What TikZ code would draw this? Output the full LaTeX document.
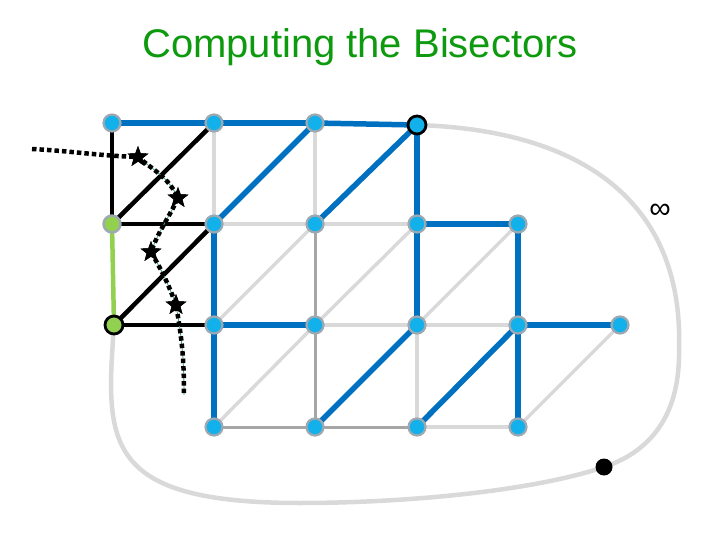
\documentclass[tikz,border=0pt]{standalone}
\usepackage{fontspec}
\setmainfont{Liberation Sans}
\usetikzlibrary{shapes.geometric}
\definecolor{titlegreen}{HTML}{0E9A0E}
\definecolor{eblue}{HTML}{0070C0}
\definecolor{vcyan}{HTML}{13B1EC}
\definecolor{vring}{HTML}{9EA8B0}
\definecolor{lgray}{HTML}{D9D9D9}
\definecolor{dgray}{HTML}{A6A6A6}
\definecolor{lgreen}{HTML}{92D050}
\definecolor{thinteal}{HTML}{3E9C8C}
\tikzset{
  ledge/.style={lgray, line width=3.4pt},
  dedge/.style={dgray, line width=3pt},
  bedge/.style={eblue, line width=5.5pt},
  kedge/.style={black, line width=4.5pt},
  gedge/.style={lgreen, line width=4.5pt},
  outer/.style={lgray, line width=4.5pt},
  vtx/.style={circle, fill=vcyan, draw=vring, line width=2.2pt, minimum size=17pt, inner sep=0pt},
  gvtx/.style={circle, fill=lgreen, draw=vring, line width=2.4pt, minimum size=17pt, inner sep=0pt},
  bigdot/.style={circle, fill=black, minimum size=17pt, inner sep=0pt},
  starmark/.style={star, star points=5, star point ratio=2.4, fill=black, minimum size=22pt, inner sep=0pt},
  bisect/.style={black, line width=4.5pt, dash pattern=on 4.5pt off 3pt},
  thinbis/.style={thinteal, line width=0.8pt}
}
\begin{document}
\begin{tikzpicture}[x=1pt,y=-1pt]
\useasboundingbox (0,0) rectangle (720,540);
% grid coordinates
\coordinate (n00) at (112,123);
\coordinate (n10) at (214,123);
\coordinate (n20) at (315,123);
\coordinate (n30) at (417,125);
\coordinate (n01) at (112,224);
\coordinate (n11) at (214,224);
\coordinate (n21) at (315,224);
\coordinate (n31) at (417,224);
\coordinate (n41) at (518,224);
\coordinate (n02) at (114,325);
\coordinate (n12) at (214,325);
\coordinate (n22) at (315,325);
\coordinate (n32) at (417,325);
\coordinate (n42) at (518,325);
\coordinate (n52) at (620,325);
\coordinate (n13) at (214,427);
\coordinate (n23) at (315,427);
\coordinate (n33) at (417,427);
\coordinate (n43) at (518,427);
\coordinate (rt) at (679,350);
\coordinate (bt) at (300,503);
\coordinate (ddot) at (604,467);
% title
\node[font=\fontsize{40}{48}\selectfont, text=titlegreen] (title) at (360,47) {Computing the Bisectors};
\node[font=\fontsize{30}{34}\selectfont] (inf) at (660,211) {∞};
% outer curve
\draw[outer] (n30) .. controls (580,130) and (684,200) .. (rt)
  .. controls (680,410) and (655,450) .. (ddot)
  .. controls (530,492) and (400,503) .. (bt)
  .. controls (100,503) and (106,440) .. (n02);
% light gray edges
\foreach \a/\b in {n10/n11,n20/n21,n11/n21,n21/n31,n21/n12,n31/n22,n41/n32,n22/n32,n32/n42,n13/n22,n32/n33,n33/n43,n43/n52}
  \draw[ledge] (\a) -- (\b);
% dark gray edges
\foreach \a/\b in {n21/n22,n22/n23,n13/n23,n23/n33}
  \draw[dedge] (\a) -- (\b);
% blue edges
\foreach \a/\b in {n00/n10,n10/n20,n20/n30,n11/n20,n21/n30,n30/n31,n11/n12,n12/n13,n31/n41,n31/n32,n41/n42,n12/n22,n42/n52,n42/n43,n23/n32,n33/n42}
  \draw[bedge] (\a) -- (\b);
% black edges
\foreach \a/\b in {n00/n01,n01/n10,n01/n11,n02/n11,n02/n12}
  \draw[kedge] (\a) -- (\b);
% green edge
\draw[gedge] (n01) -- (n02);
% vertices
\foreach \n in {n00,n10,n20,n11,n21,n31,n41,n12,n22,n32,n42,n52,n13,n23,n33,n43}
  \node[vtx] (v\n) at (\n) {};
\node[vtx, draw=black, line width=2.8pt, minimum size=18pt] (vn30) at (n30) {};
\node[gvtx] (vn01) at (n01) {};
\node[gvtx, draw=black, line width=2.8pt, minimum size=18pt] (vn02) at (n02) {};
\node[bigdot] (vdot) at (ddot) {};
% bisector
\coordinate (d0) at (32,149);
\coordinate (dend) at (184,395);
\node[starmark] (s1) at (138,157) {};
\node[starmark] (s2) at (178,198) {};
\node[starmark] (s3) at (151,252) {};
\node[starmark] (s4) at (176,305) {};
\draw[thinbis] (s1.center) to[out=-40,in=115] (s2.center) to[out=-115,in=70] (s3.center) to[out=-60,in=110] (s4.center) to[out=-80,in=90] (dend);
\draw[bisect] (d0) to[out=-3,in=178] (s1.center) to[out=-40,in=115] (s2.center) to[out=-115,in=70] (s3.center) to[out=-60,in=110] (s4.center) to[out=-80,in=90] (dend);
\node[starmark] at (s1) {};
\node[starmark] at (s2) {};
\node[starmark] at (s3) {};
\node[starmark] at (s4) {};
\end{tikzpicture}
\end{document}
